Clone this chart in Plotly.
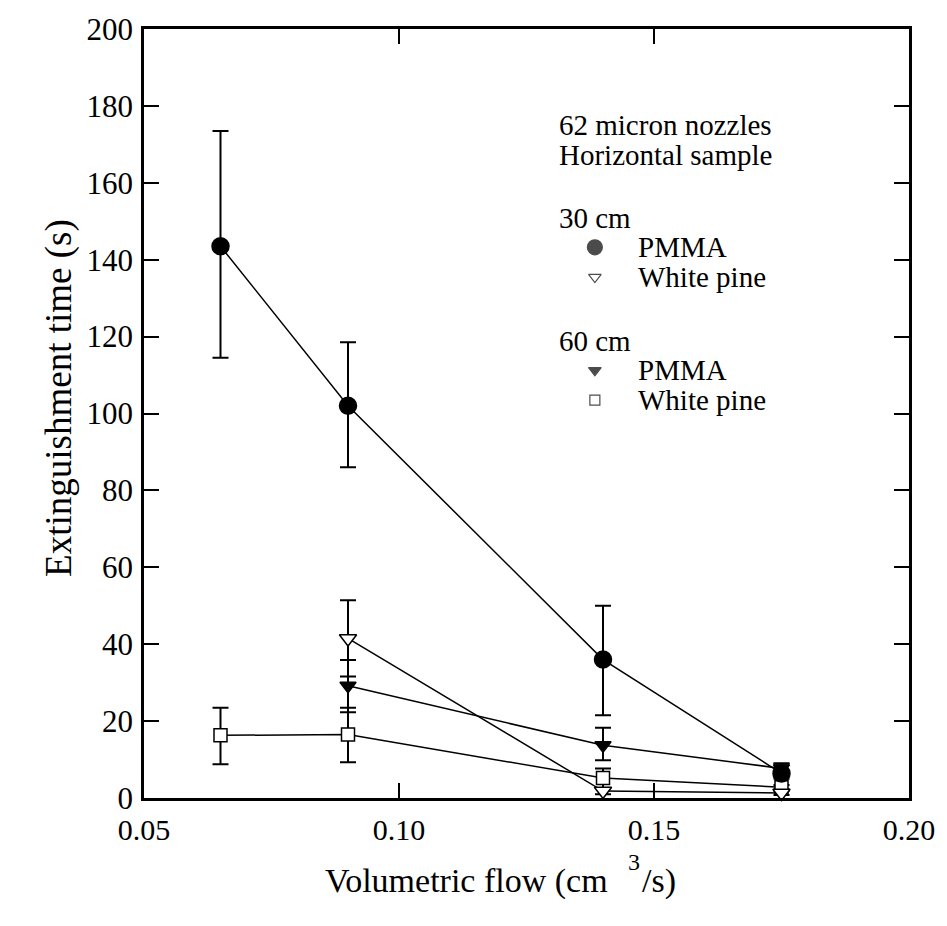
import plotly.graph_objects as go

# ---- data ----
flow_a = [0.065, 0.09, 0.14, 0.175]          # 30 cm PMMA
pmma30 = [143.5, 102.0, 36.0, 6.4]
pmma30_hi = [173.5, 118.5, 50.0, 9.0]
pmma30_lo = [114.5, 86.0, 21.5, 5.0]

flow_b = [0.09, 0.14, 0.175]                 # 30 cm white pine
pine30 = [41.5, 1.8, 1.3]
pine30_hi = [51.4, 2.6, 1.8]
pine30_lo = [31.6, 1.0, 0.8]

flow_c = [0.09, 0.14, 0.175]                 # 60 cm PMMA
pmma60 = [29.2, 13.7, 7.7]
pmma60_hi = [35.9, 18.3, 9.0]
pmma60_lo = [22.3, 9.8, 6.4]

flow_d = [0.065, 0.09, 0.14, 0.175]          # 60 cm white pine
pine60 = [16.3, 16.5, 5.2, 2.8]
pine60_hi = [23.5, 23.5, 7.7, 3.4]
pine60_lo = [8.8, 9.3, 2.6, 2.2]

x_ticks = [0.05, 0.10, 0.15, 0.20]
x_ticklabels = ["0.05", "0.10", "0.15", "0.20"]
y_ticks = [0, 20, 40, 60, 80, 100, 120, 140, 160, 180, 200]

legend_header = ["62 micron nozzles", "Horizontal sample"]
legend_groups = ["30 cm", "60 cm"]
legend_items = ["PMMA", "White pine", "PMMA", "White pine"]

FONT = "Liberation Serif, Times New Roman, serif"

fig = go.Figure()

def add_series(x, y, hi, lo, symbol, fill, size):
    fig.add_trace(go.Scatter(
        x=x, y=y, mode="lines+markers",
        line=dict(color="black", width=1.5),
        marker=dict(symbol=symbol, size=size, color=fill,
                    line=dict(color="black", width=1.5)),
        error_y=dict(type="data", symmetric=False,
                     array=[h - v for h, v in zip(hi, y)],
                     arrayminus=[v - l for v, l in zip(y, lo)],
                     color="black", thickness=2, width=8),
        showlegend=False, cliponaxis=False))

add_series(flow_d, pine60, pine60_hi, pine60_lo, "square", "white", 13)
add_series(flow_c, pmma60, pmma60_hi, pmma60_lo, "triangle-down", "black", 14)
add_series(flow_b, pine30, pine30_hi, pine30_lo, "triangle-down", "white", 15)
add_series(flow_a, pmma30, pmma30_hi, pmma30_lo, "circle", "black", 17)

# pixel frame of the plot area
W, H = 947, 926
L, R, T, B = 144, 916, 23, 798
def fx(px):
    return (px - L) / (R - L)
def fy(py):
    return (B - py) / (B - T)

leg_marker_x = 599
leg_marker_y = [243, 273, 367, 397]
fig.add_trace(go.Scatter(
    x=[fx(leg_marker_x)] * 4, y=[fy(v) for v in leg_marker_y],
    xaxis="x2", yaxis="y2", mode="markers",
    marker=dict(symbol=["circle", "triangle-down-open", "triangle-down", "square-open"],
                size=[15, 11, 11, 10], color="black",
                line=dict(color="black", width=1.2)),
    showlegend=False, hoverinfo="skip"))

def txt_ann(text, px, py, size=29, **kw):
    d = dict(x=fx(px), y=fy(py), xref="paper", yref="paper", text=text,
             showarrow=False, xanchor="left", yanchor="middle",
             font=dict(family=FONT, size=size, color="black"))
    d.update(kw)
    return d

annotations = []
for t, py in zip(legend_header, [120, 150]):
    annotations.append(txt_ann(t, 561, py))
for t, py in zip(legend_groups, [213, 337]):
    annotations.append(txt_ann(t, 561, py))
for t, py in zip(legend_items, leg_marker_y):
    annotations.append(txt_ann(t, 640, py))

# axis titles
annotations.append(txt_ann("Extinguishment time (s)", 58, 395, size=37,
                           textangle=-90, xanchor="center"))
annotations.append(txt_ann("Volumetric flow (cm", 614, 882, size=34,
                           xanchor="right"))
annotations.append(txt_ann("3", 638, 863, size=24, xanchor="center"))
annotations.append(txt_ann("/s)", 645, 882, size=34, xanchor="left"))

fig.update_layout(
    width=W, height=H,
    margin=dict(l=L, r=W - R, t=T, b=H - B),
    plot_bgcolor="white", paper_bgcolor="white",
    font=dict(family=FONT, size=31, color="black"),
    annotations=annotations,
    xaxis=dict(range=[0.05, 0.20], tickvals=x_ticks, ticktext=x_ticklabels,
               ticks="inside", ticklen=15, tickwidth=2, tickcolor="black",
               showline=True, linewidth=2.5, linecolor="black", mirror="ticks",
               showgrid=False, zeroline=False, tickfont=dict(size=30),
               ticklabelstandoff=3),
    yaxis=dict(range=[0, 200], tickvals=y_ticks,
               ticks="inside", ticklen=15, tickwidth=2, tickcolor="black",
               showline=True, linewidth=2.5, linecolor="black", mirror="ticks",
               showgrid=False, zeroline=False, tickfont=dict(size=31),
               ticklabelstandoff=2),
    xaxis2=dict(overlaying="x", range=[0, 1], visible=False),
    yaxis2=dict(overlaying="y", range=[0, 1], visible=False),
)

fig.write_html(
    "out.html",
    config={"displayModeBar": False},
    post_script="document.body.style.margin='0';document.body.style.overflow='hidden';",
)
